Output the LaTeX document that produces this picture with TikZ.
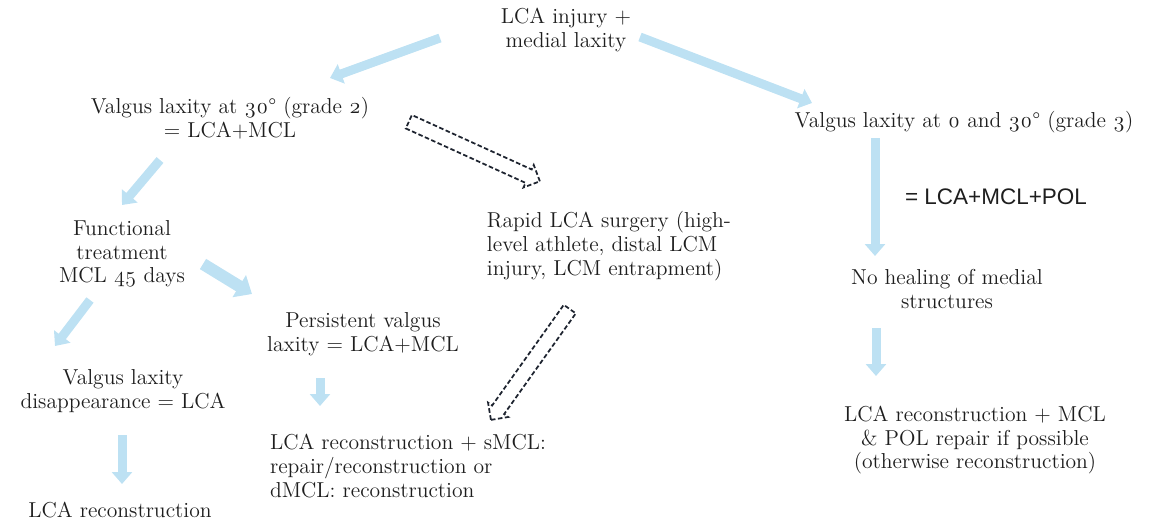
\documentclass[tikz,border=0pt]{standalone}
\usepackage{fontspec}
\setmainfont{Latin Modern Roman}[Numbers=OldStyle]
\newfontfamily\polfont{Liberation Sans}
\usetikzlibrary{arrows.meta,calc,shapes.arrows}
\definecolor{flowblue}{RGB}{189,225,243}
\definecolor{dashink}{RGB}{30,36,48}
\definecolor{txtink}{RGB}{30,30,30}

\begin{document}
\begin{tikzpicture}[x=0.02cm,y=-0.02cm,
  every node/.style={font=\fontsize{12.3}{13.5}\selectfont,text=txtink,align=center,inner sep=2pt},
  flow/.style={draw=flowblue,line width=0.18cm,-{Triangle[width=0.4cm,length=0.24cm]}},
  hollow/.style={single arrow,draw=dashink,line width=1pt,dash pattern=on 2.6pt off 1.4pt,
    inner sep=0.13cm,single arrow head extend=0.1cm,minimum height=#1,
    midway,sloped,allow upside down}]
\useasboundingbox (0,0) rectangle (1149,520);
\node (top) at (566,30) {LCA injury +\\medial laxity};
\node (v2) at (230,118) {Valgus laxity at 30° (grade 2)\\= LCA+MCL};
\node (v3) at (964,122) {Valgus laxity at 0 and 30° (grade 3)};
\node (pol) at (996,197) {\polfont\fontsize{12.8}{14}\selectfont = LCA+MCL+POL};
\node (func) at (122,254) {Functional\\treatment\\MCL 45 days};
\node[align=left] (rapid) at (609,246) {Rapid LCA surgery (high-\\level athlete, distal LCM\\injury, LCM entrapment)};
\node (noheal) at (947,289) {No healing of medial\\structures};
\node (persist) at (363,334) {Persistent valgus\\laxity = LCA+MCL};
\node (disap) at (123,391) {Valgus laxity\\disappearance = LCA};
\node[align=left] (recon2) at (408,466) {LCA reconstruction + sMCL:\\repair/reconstruction or\\dMCL: reconstruction};
\node (recon3) at (975,440) {LCA reconstruction + MCL\\\& POL repair if possible\\(otherwise reconstruction)};
\node (recon1) at (120,510) {LCA reconstruction};

\draw[flow] ($(top)+(-126,8)$) -- ($(v2)+(100,-40)$);
\draw[flow] ($(top)+(74,7)$) -- ($(v3)+(-152,-19)$);
\draw[flow] ($(v2)+(-70,42)$) -- ($(func)+(0,-49)$);
\draw[flow,line width=0.24cm,-{Triangle[width=0.5cm,length=0.3cm]}] ($(func)+(81,10)$) -- ($(persist)+(-111,-40)$);
\draw[flow] ($(func)+(-32,46)$) -- ($(disap)+(-68,-45)$);
\draw[flow] ($(v3)+(-89,16)$) -- ($(noheal)+(-72,-33)$);
\draw[flow] ($(persist)+(-43,44)$) -- ($(recon2)+(-88,-60)$);
\draw[flow] ($(noheal)+(-71,39)$) -- ($(recon3)+(-99,-64)$);
\draw[flow] ($(disap)+(-1,44)$) -- ($(recon1)+(2,-26)$);

\path ($(v2)+(175,2)$) -- ($(rapid)+(-72,-66)$) node[hollow=2.88cm] (dash1) {};
\path ($(rapid)+(-37,60)$) -- ($(recon2)+(85,-49)$) node[hollow=2.72cm] (dash2) {};
\end{tikzpicture}
\end{document}
